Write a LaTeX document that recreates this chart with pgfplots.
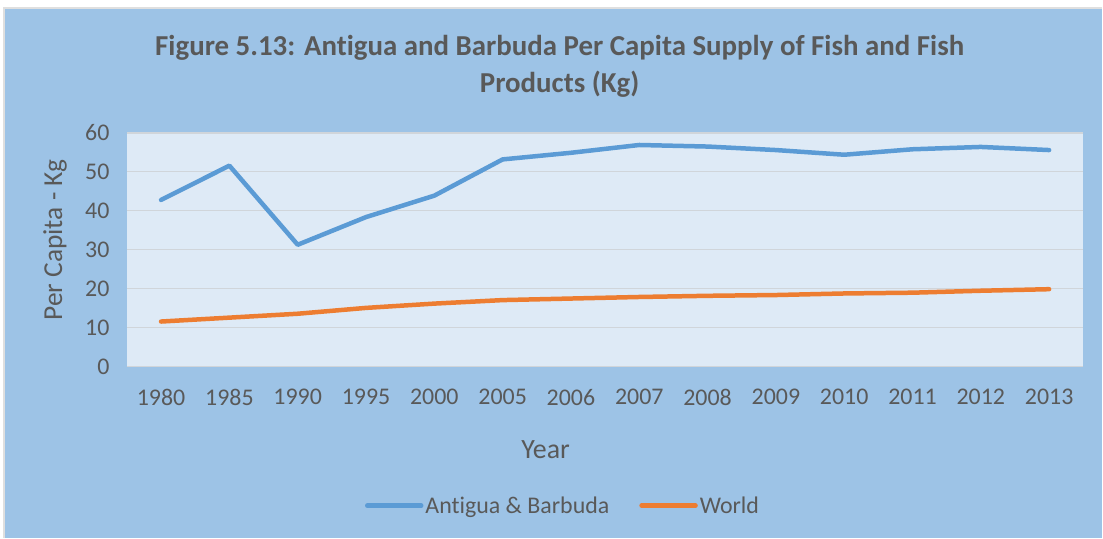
\documentclass[border=0pt]{standalone}
\usepackage{fontspec}
\setmainfont{Carlito}[Ligatures=NoCommon]
\usepackage{pgfplots}
\pgfplotsset{compat=1.18}
\definecolor{bgblue}{HTML}{9DC3E6}
\definecolor{plotbg}{HTML}{DEEAF6}
\definecolor{txt}{HTML}{595959}
\definecolor{ablue}{HTML}{5B9BD5}
\definecolor{aorange}{HTML}{ED7D31}
\definecolor{gridc}{HTML}{D0D5DA}
\begin{document}
\begin{tikzpicture}[x=1bp,y=1bp]
\fill[white] (0,0) rectangle (1103,538);
\fill[bgblue] (4,0) rectangle (1103,530);
\draw[gray!25,line width=1.5bp] (4,0) -- (4,530) -- (1103,530);
\node[txt,font=\fontsize{29}{37}\selectfont\bfseries,align=center] at (560,471.5) {Figure 5.13: Antigua and Barbuda Per Capita Supply of Fish and Fish\\Products (Kg)};
\node[txt,font=\fontsize{27.5}{30}\selectfont,rotate=90] at (55,298) {Per Capita - Kg};
\node[txt,font=\fontsize{28}{30}\selectfont] at (546,88) {Year};
\begin{axis}[
  at={(127bp,171bp)}, anchor=south west,
  scale only axis, width=957bp, height=234bp,
  xmin=-0.5, xmax=13.5, ymin=0, ymax=60,
  xtick={0,...,13},
  xticklabels={1980,1985,1990,1995,2000,2005,2006,2007,2008,2009,2010,2011,2012,2013},
  ytick={0,10,...,60},
  major tick length=0pt,
  axis line style={draw=none},
  axis background/.style={fill=plotbg},
  ymajorgrids, grid style={gridc, line width=1.2bp},
  tick label style={txt, font=\fontsize{24}{28}\selectfont},
  /pgf/number format/assume math mode=true,
  xticklabel style={yshift=-19bp},
  yticklabel style={xshift=-14bp},
  legend columns=2,
  legend style={at={(0.456,-0.594)}, anchor=center, draw=none, fill=none,
    font=\fontsize{24}{28}\selectfont, text=txt,
    /tikz/every even column/.append style={column sep=28bp}},
  legend image code/.code={\draw[#1, line cap=round] (0bp,0bp) -- (54bp,0bp);},
  every axis plot/.append style={line width=4.5bp, line join=round, line cap=round},
]
\addplot[ablue] coordinates {(0,42.8) (1,51.6) (2,31.3) (3,38.4) (4,43.9) (5,53.2) (6,54.9) (7,56.9) (8,56.5) (9,55.6) (10,54.4) (11,55.8) (12,56.4) (13,55.6)};
\addlegendentry{Antigua \& Barbuda}
\addplot[aorange] coordinates {(0,11.6) (1,12.6) (2,13.6) (3,15.1) (4,16.2) (5,17.1) (6,17.5) (7,17.9) (8,18.2) (9,18.4) (10,18.8) (11,19.0) (12,19.5) (13,19.9)};
\addlegendentry{World}
\end{axis}
\end{tikzpicture}
\end{document}
